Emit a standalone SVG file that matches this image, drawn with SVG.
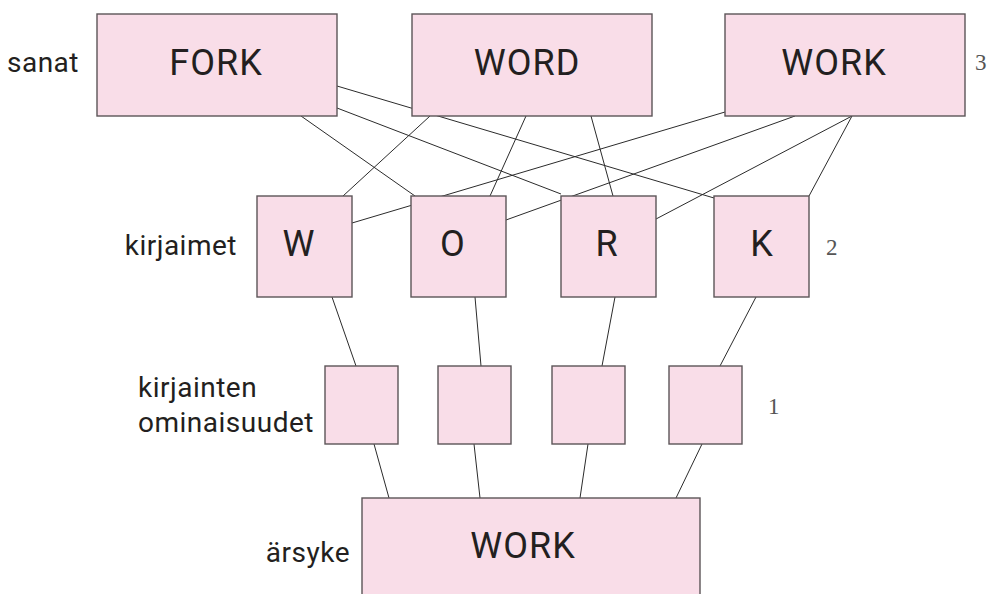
<svg xmlns="http://www.w3.org/2000/svg" width="988" height="594" viewBox="0 0 988 594">
  <style>
    .box { fill: #f9dde8; stroke: #5c5558; stroke-width: 1.4; }
    .link { stroke: #2b2b2b; stroke-width: 1; fill: none; }
    .lbl { font-family: Roboto, "Liberation Sans", sans-serif; font-size: 36px; letter-spacing: 1px; fill: #231f20; text-anchor: middle; }
    .side { font-family: Roboto, "Liberation Sans", sans-serif; font-size: 28px; letter-spacing: 0.5px; fill: #231f20; }
    .num { font-family: "Liberation Serif", serif; font-size: 23px; fill: #555; }
  </style>
  <rect width="988" height="594" fill="#ffffff"/>

  <!-- level captions -->
  <g id="captions">
    <text class="side" x="79" y="72" text-anchor="end">sanat</text>
    <text class="side" x="237" y="255" text-anchor="end">kirjaimet</text>
    <text class="side" x="138" y="397">kirjainten</text>
    <text class="side" x="138" y="432">ominaisuudet</text>
    <text class="side" x="350" y="562" text-anchor="end">ärsyke</text>
    <text class="num" x="975" y="70">3</text>
    <text class="num" x="826" y="255">2</text>
    <text class="num" x="768" y="414">1</text>
  </g>

  <!-- connectors (drawn first so boxes cover them) -->
  <g id="connectors">
    <!-- words to letters -->
    <line class="link" x1="337" y1="86" x2="714" y2="198"/>
    <line class="link" x1="337" y1="108" x2="561" y2="194"/>
    <line class="link" x1="301" y1="116" x2="415" y2="196"/>
    <line class="link" x1="430" y1="116" x2="343" y2="196"/>
    <line class="link" x1="526" y1="116" x2="490" y2="196"/>
    <line class="link" x1="591" y1="116" x2="613" y2="196"/>
    <line class="link" x1="725" y1="112" x2="352" y2="223"/>
    <line class="link" x1="795" y1="116" x2="506" y2="220"/>
    <line class="link" x1="852" y1="116" x2="656" y2="219"/>
    <line class="link" x1="852" y1="116" x2="809" y2="196"/>
    <!-- letters to features -->
    <line class="link" x1="332" y1="297" x2="356" y2="366"/>
    <line class="link" x1="475" y1="297" x2="481" y2="366"/>
    <line class="link" x1="615" y1="297" x2="602" y2="366"/>
    <line class="link" x1="756" y1="297" x2="720" y2="366"/>
    <!-- features to stimulus -->
    <line class="link" x1="374" y1="444" x2="389" y2="498"/>
    <line class="link" x1="474" y1="444" x2="480" y2="498"/>
    <line class="link" x1="588" y1="444" x2="580" y2="498"/>
    <line class="link" x1="702" y1="444" x2="676" y2="498"/>
  </g>

  <!-- word level -->
  <g id="word-fork">
    <rect class="box" x="97" y="14" width="240" height="102"/>
    <text class="lbl" x="216" y="75">FORK</text>
  </g>
  <g id="word-word">
    <rect class="box" x="412" y="14" width="240" height="102"/>
    <text class="lbl" x="527" y="75">WORD</text>
  </g>
  <g id="word-work">
    <rect class="box" x="725" y="14" width="240" height="102"/>
    <text class="lbl" x="834" y="75">WORK</text>
  </g>

  <!-- letter level -->
  <g id="letter-w">
    <rect class="box" x="257" y="196" width="95" height="101"/>
    <text class="lbl" x="299" y="256">W</text>
  </g>
  <g id="letter-o">
    <rect class="box" x="411" y="196" width="95" height="101"/>
    <text class="lbl" x="453" y="256">O</text>
  </g>
  <g id="letter-r">
    <rect class="box" x="561" y="196" width="95" height="101"/>
    <text class="lbl" x="607" y="256">R</text>
  </g>
  <g id="letter-k">
    <rect class="box" x="714" y="196" width="95" height="101"/>
    <text class="lbl" x="762" y="256">K</text>
  </g>

  <!-- feature level -->
  <g id="feature-1"><rect class="box" x="325" y="366" width="73" height="78"/></g>
  <g id="feature-2"><rect class="box" x="438" y="366" width="73" height="78"/></g>
  <g id="feature-3"><rect class="box" x="552" y="366" width="73" height="78"/></g>
  <g id="feature-4"><rect class="box" x="669" y="366" width="73" height="78"/></g>

  <!-- stimulus -->
  <g id="stimulus">
    <rect class="box" x="362" y="498" width="338" height="110"/>
    <text class="lbl" x="523" y="558">WORK</text>
  </g>
</svg>
